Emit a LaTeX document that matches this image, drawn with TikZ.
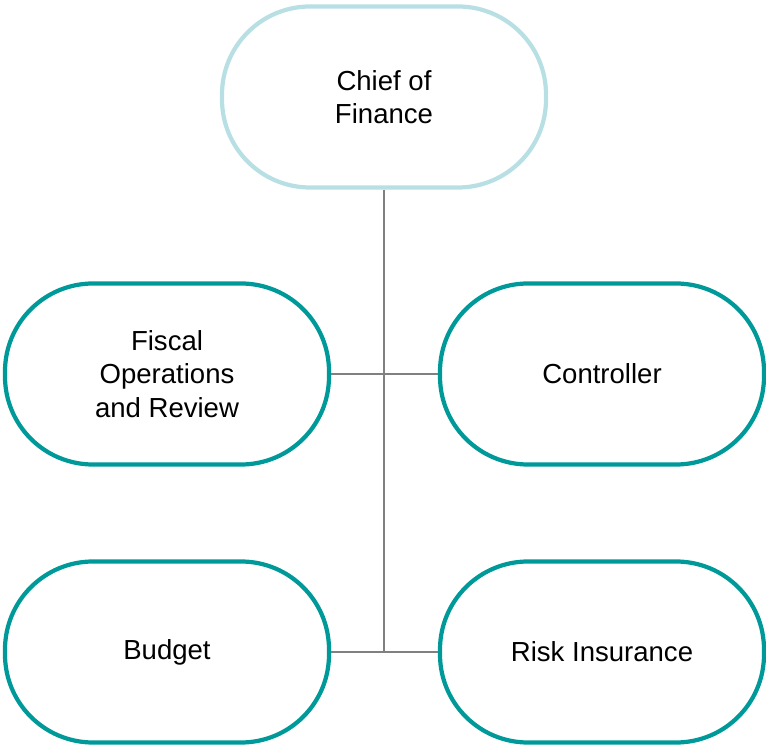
\documentclass[tikz,border=0pt]{standalone}
\usepackage{fontspec}
\setmainfont{Liberation Sans}
\usetikzlibrary{positioning}
\definecolor{tealline}{RGB}{0,153,153}
\definecolor{lightteal}{RGB}{184,224,228}
\definecolor{linkgray}{RGB}{128,128,128}
\tikzset{
    unit/.style={draw=tealline, line width=3pt, fill=white, rounded corners=2.2cm,
        minimum width=8.1cm, minimum height=4.525cm, align=center,
        font=\fontsize{19.6}{23.8}\selectfont},
    head/.style={unit, draw=lightteal},
    link/.style={draw=linkgray, line width=1.4pt}
}
\begin{document}
\begin{tikzpicture}
        \useasboundingbox (0,0) rectangle (19.15,18.65);
        \node[head] (chief) at (9.6,16.225) {Chief of\\Finance};
        \node[unit] (fiscal) at (4.175,9.3) {Fiscal\\Operations\\and Review};
        \node[unit] (ctrl) at (15.05,9.3) {Controller};
        \node[unit] (budget) at (4.175,2.35) {Budget};
        \node[unit] (risk) at (15.05,2.35) {Risk Insurance};
        \coordinate (bottomjoin) at (chief.south |- budget.east);
        \draw[link](chief.south)--(bottomjoin);
        \draw[link](fiscal.east)--(ctrl.west);
        \draw[link](budget.east)--(risk.west);
    \end{tikzpicture}
\end{document}
